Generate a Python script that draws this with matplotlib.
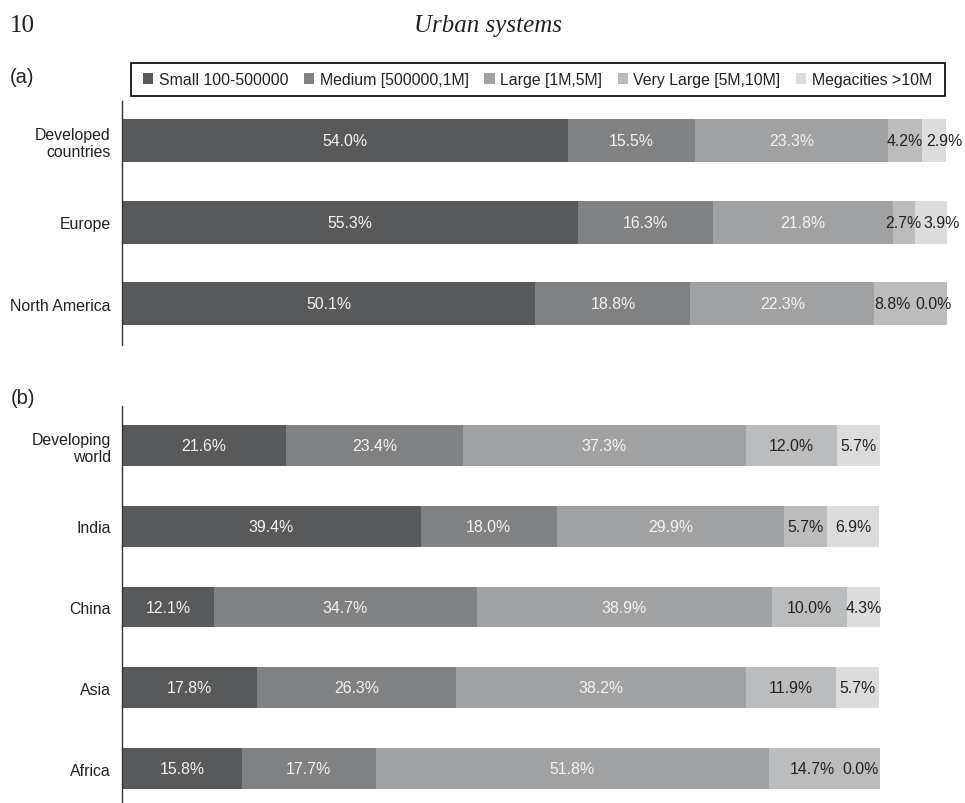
import matplotlib
matplotlib.use("Agg")
import matplotlib.pyplot as plt
from matplotlib.patches import Patch, Rectangle
import numpy as np

# ---------------- data ----------------
size_classes = ["Small 100-500000", "Medium [500000,1M]", "Large [1M,5M]",
                "Very Large [5M,10M]", "Megacities >10M"]

regions_a = ["Developed\ncountries", "Europe", "North America"]
small_a = [54.0, 55.3, 50.1]
medium_a = [15.5, 16.3, 18.8]
large_a = [23.3, 21.8, 22.3]
vlarge_a = [4.2, 2.7, 8.8]
mega_a = [2.9, 3.9, 0.0]

regions_b = ["Developing\nworld", "India", "China", "Asia", "Africa"]
small_b = [21.6, 39.4, 12.1, 17.8, 15.8]
medium_b = [23.4, 18.0, 34.7, 26.3, 17.7]
large_b = [37.3, 29.9, 38.9, 38.2, 51.8]
vlarge_b = [12.0, 5.7, 10.0, 11.9, 14.7]
mega_b = [5.7, 6.9, 4.3, 5.7, 0.0]

# ---------------- style ----------------
colors = ["#58595b", "#808183", "#a0a1a3", "#bbbcbe", "#dcdcde"]
text_colors = ["#f4f4f4", "#f4f4f4", "#f4f4f4", "#222222", "#222222"]
FONT = "Liberation Sans"
SERIF = "Liberation Serif"
FS = 11.4

# label nudges in pixels (row, segment) -> dx, to avoid overlapping labels
nudge_a = {(0, 4): 10.5, (1, 4): 11, (2, 3): -18, (2, 4): -13.5}
nudge_b = {(4, 3): -12, (4, 4): -19}

W, H = 965, 804
fig = plt.figure(figsize=(W / 100, H / 100), dpi=100)
fig.patch.set_facecolor("white")


def fx(px):
    return px / W


def fy(py):
    return 1 - py / H


def draw(ax, regions, series, height, nudges):
    y = np.arange(len(regions))
    left = np.zeros(len(regions))
    for k, vals in enumerate(series):
        vals = np.asarray(vals, dtype=float)
        ax.barh(y, vals, left=left, height=height, color=colors[k], linewidth=0)
        for i, v in enumerate(vals):
            dx = nudges.get((i, k), 0) * 0.72
            ax.annotate(f"{v:.1f}%", xy=(left[i] + v / 2, y[i]), xytext=(dx, 0),
                        textcoords="offset points", ha="center", va="center",
                        color=text_colors[k], fontsize=FS, family=FONT,
                        annotation_clip=False)
        left += vals
    ax.set_xlim(0, 100)
    ax.set_yticks(y)
    ax.set_yticklabels(regions, family=FONT, fontsize=FS, color="#222222")
    ax.tick_params(axis="y", length=0, pad=8)
    ax.set_xticks([])
    for s in ("top", "right", "bottom"):
        ax.spines[s].set_visible(False)
    ax.spines["left"].set_color("#333333")
    ax.spines["left"].set_linewidth(1.0)
    ax.set_facecolor("none")


# panel (a)
ax_a = fig.add_axes([fx(122), fy(346), fx(947) - fx(122), (346 - 102) / H])
draw(ax_a, regions_a, [small_a, medium_a, large_a, vlarge_a, mega_a], 0.528, nudge_a)
ax_a.set_ylim(2.509, -0.485)

# panel (b)
ax_b = fig.add_axes([fx(122), fy(804), fx(880) - fx(122), (804 - 407) / H])
draw(ax_b, regions_b, [small_b, medium_b, large_b, vlarge_b, mega_b], 0.507, nudge_b)
ax_b.set_ylim(4.427, -0.489)

# legend (entries) + separate frame
handles = [Patch(facecolor=c, edgecolor="none") for c in colors]
leg = fig.legend(handles, size_classes, loc="center",
                 bbox_to_anchor=(fx(143), fy(97), fx(932) - fx(143), 33 / H),
                 mode="expand", ncol=5, frameon=False,
                 handlelength=0.65, handleheight=0.65,
                 handletextpad=0.35, borderaxespad=0, borderpad=0,
                 prop={"family": FONT, "size": FS})
for t in leg.get_texts():
    t.set_color("#222222")
fig.add_artist(Rectangle((fx(131), fy(97)), fx(945) - fx(131), 33 / H,
                         transform=fig.transFigure, fill=False,
                         edgecolor="black", linewidth=1.2))

# header and panel letters
fig.text(fx(10), fy(32), "10", family=SERIF, fontsize=18, va="baseline", ha="left",
         color="#222222")
fig.text(fx(487.5), fy(32), "Urban systems", family=SERIF, style="italic",
         fontsize=18, va="baseline", ha="center", color="#222222")
fig.text(fx(10), fy(77.5), "(a)", family=FONT, fontsize=14.5, va="center", ha="left",
         color="#222222")
fig.text(fx(11), fy(399), "(b)", family=FONT, fontsize=14.5, va="center", ha="left",
         color="#222222")

fig.savefig("out.png", dpi=100, facecolor="white")
